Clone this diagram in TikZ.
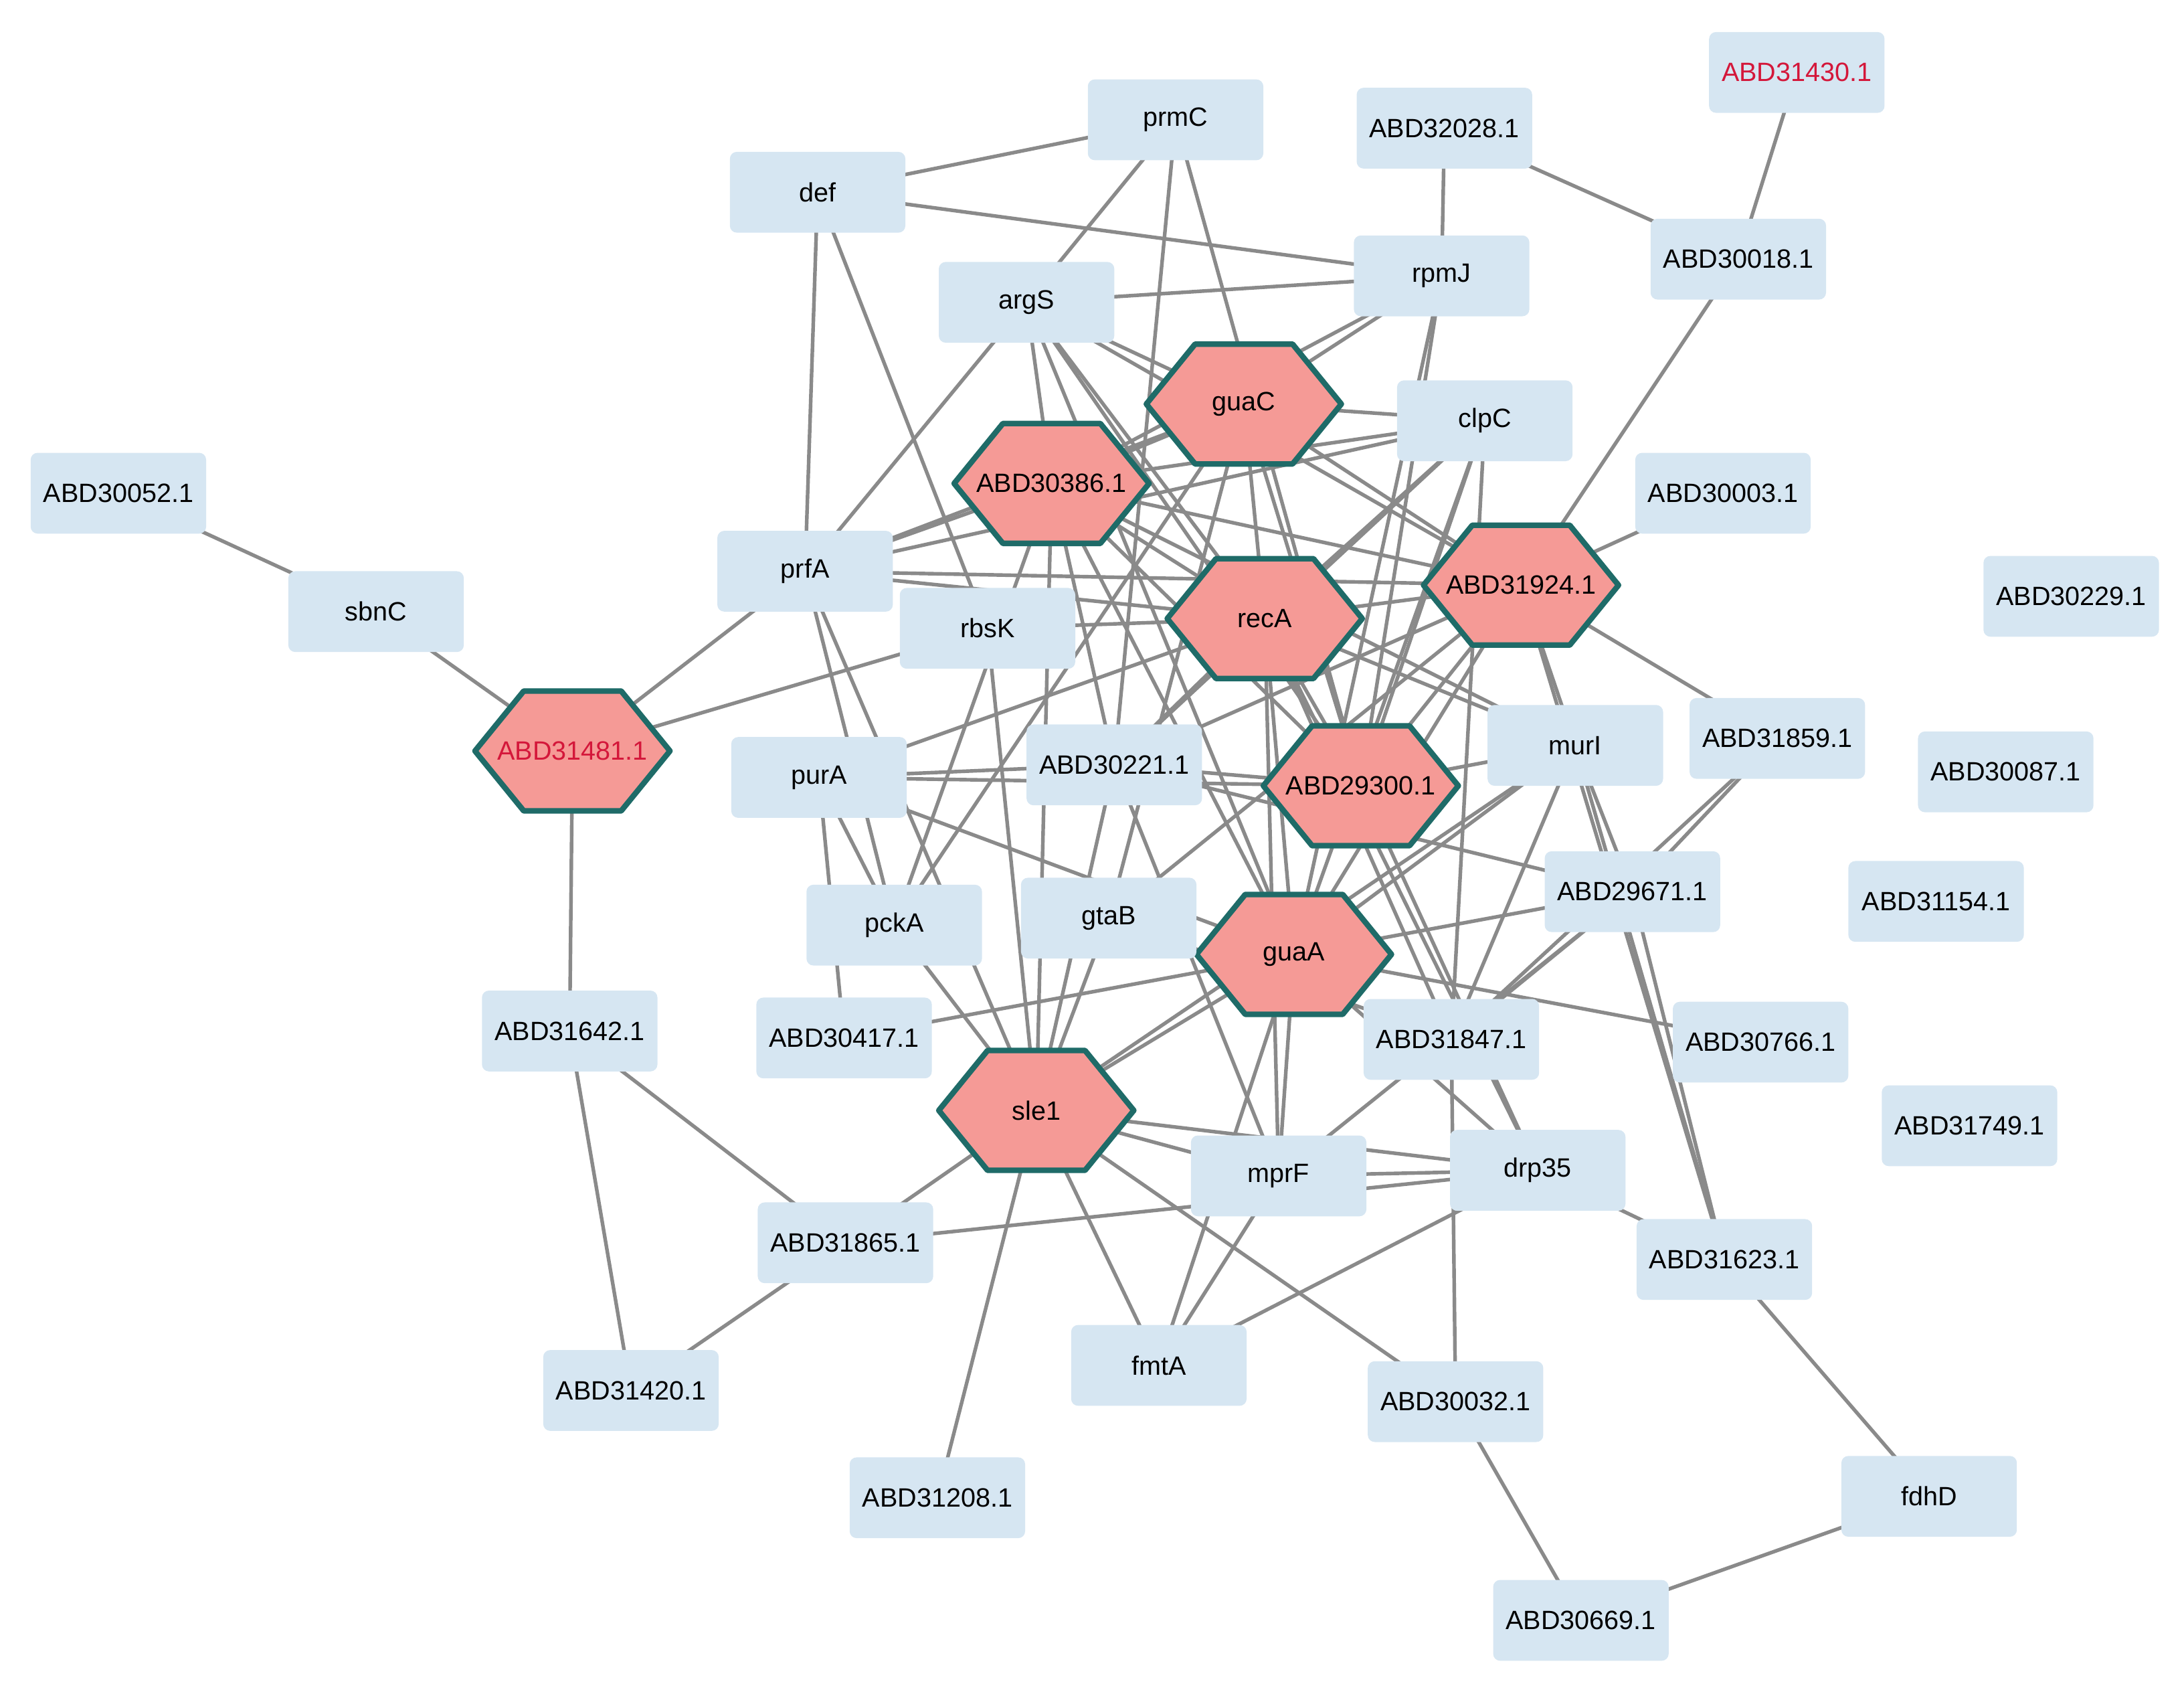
\documentclass[tikz,border=0pt]{standalone}
\usepackage{fontspec}
\setmainfont{Liberation Sans}
\pgfdeclarelayer{edgelayer}\pgfdeclarelayer{hexlayer}
\pgfsetlayers{edgelayer,hexlayer,main}
\definecolor{rbox}{HTML}{D6E6F2}
\definecolor{hexf}{HTML}{F59A96}
\definecolor{hexb}{HTML}{1F6B68}
\definecolor{edg}{HTML}{8A8A8A}
\definecolor{redt}{HTML}{D4173A}
\tikzset{
 box/.style={fill=rbox,rounded corners=5pt,minimum width=126pt,minimum height=58pt,inner sep=0pt,font=\fontsize{19}{22}\selectfont},
 hext/.style={inner sep=0pt,font=\fontsize{19}{22}\selectfont},
 hexs/.style={fill=hexf,draw=hexb,line width=4pt,line join=round},
 edge/.style={draw=edg,line width=2.6pt}
}
\newcommand\hx[4]{\node[hext] (#1) at (#2,#3) {#4};
 \begin{pgfonlayer}{hexlayer}\path[hexs] ({#2-70},#3) -- ({#2-35},{#3-43}) -- ({#2+35},{#3-43}) -- ({#2+70},#3) -- ({#2+35},{#3+43}) -- ({#2-35},{#3+43}) -- cycle;\end{pgfonlayer}}
\begin{document}
\begin{tikzpicture}[x=1pt,y=-1pt]
\useasboundingbox (0,0) rectangle (1568,1214);
\node[box,text=redt] (a31430) at (1290,52) {ABD31430.1};
\node[box] (prmC) at (844,86) {prmC};
\node[box] (a32028) at (1037,92) {ABD32028.1};
\node[box] (def) at (587,138) {def};
\node[box] (a30018) at (1248,186) {ABD30018.1};
\node[box] (rpmJ) at (1035,198) {rpmJ};
\node[box] (argS) at (737,217) {argS};
\node[box] (clpC) at (1066,302) {clpC};
\node[box] (a30052) at (85,354) {ABD30052.1};
\node[box] (a30003) at (1237,354) {ABD30003.1};
\node[box] (prfA) at (578,410) {prfA};
\node[box] (a30229) at (1487,428) {ABD30229.1};
\node[box] (sbnC) at (270,439) {sbnC};
\node[box] (rbsK) at (709,451) {rbsK};
\node[box] (murI) at (1131,535) {murI};
\node[box] (a31859) at (1276,530) {ABD31859.1};
\node[box] (a30221) at (800,549) {ABD30221.1};
\node[box] (purA) at (588,558) {purA};
\node[box] (a30087) at (1440,554) {ABD30087.1};
\node[box] (a29671) at (1172,640) {ABD29671.1};
\node[box] (a31154) at (1390,647) {ABD31154.1};
\node[box] (pckA) at (642,664) {pckA};
\node[box] (gtaB) at (796,659) {gtaB};
\node[box] (a31642) at (409,740) {ABD31642.1};
\node[box] (a30417) at (606,745) {ABD30417.1};
\node[box] (a31847) at (1042,746) {ABD31847.1};
\node[box] (a30766) at (1264,748) {ABD30766.1};
\node[box] (a31749) at (1414,808) {ABD31749.1};
\node[box] (mprF) at (918,844) {mprF};
\node[box] (drp35) at (1104,840) {drp35};
\node[box] (a31865) at (607,892) {ABD31865.1};
\node[box] (a31623) at (1238,904) {ABD31623.1};
\node[box] (fmtA) at (832,980) {fmtA};
\node[box] (a31420) at (453,998) {ABD31420.1};
\node[box] (a30032) at (1045,1006) {ABD30032.1};
\node[box] (fdhD) at (1385,1074) {fdhD};
\node[box] (a31208) at (673,1075) {ABD31208.1};
\node[box] (a30669) at (1135,1163) {ABD30669.1};
\hx{guaC}{893}{290}{guaC}
\hx{a30386}{755}{347}{ABD30386.1}
\hx{a31924}{1092}{420}{ABD31924.1}
\hx{recA}{908}{444}{recA}
\hx{a31481}{411}{539}{\textcolor{redt}{ABD31481.1}}
\hx{a29300}{977}{564}{ABD29300.1}
\hx{guaA}{929}{685}{guaA}
\hx{sle1}{744}{797}{sle1}
\begin{pgfonlayer}{edgelayer}
\foreach \a/\b in {a31430/a30018,a32028/a30018,a32028/rpmJ,a30018/a31924,def/prmC,def/rpmJ,def/prfA,def/rbsK,
 prmC/argS,prmC/a30221,prmC/a29300,argS/rpmJ,argS/guaC,argS/recA,argS/a30386,argS/a31924,argS/a29300,argS/guaA,argS/prfA,
 rpmJ/guaC,rpmJ/a30386,rpmJ/a29300,rpmJ/guaA,sbnC/a30052,sbnC/a31481,a31481/prfA,a31481/rbsK,a31481/a31642,
 a31642/a31420,a31642/a31865,a31865/a31420,a31865/sle1,a31865/drp35,sle1/a31208,sle1/fmtA,sle1/mprF,sle1/drp35,sle1/a30032,
 sle1/guaA,sle1/murI,sle1/pckA,sle1/rbsK,sle1/prfA,sle1/gtaB,sle1/a30221,fmtA/mprF,fmtA/drp35,fmtA/guaA,
 a30032/a30669,a30032/a31847,fdhD/a30669,fdhD/a31623,a31623/drp35,a31623/a29671,a31623/a31924,drp35/mprF,drp35/a29300,
 drp35/guaA,drp35/recA,mprF/a29671,mprF/guaA,mprF/a30221,mprF/recA,a31847/a29671,a31847/a31859,a31847/murI,a31847/gtaB,
 a31847/recA,a30766/guaA,a30417/guaA,a30417/purA,pckA/purA,pckA/prfA,pckA/guaC,purA/a30221,purA/a29300,purA/recA,purA/guaA,
 gtaB/guaC,gtaB/a31924,guaA/a29671,guaA/a31924,guaA/murI,guaA/clpC,guaA/a30386,guaA/recA,a29300/murI,a29300/clpC,
 a29300/a31924,a29300/a30386,a29300/guaC,a29300/recA,a29300/a30221,recA/prfA,recA/rbsK,recA/guaC,recA/a30386,recA/a31924,
 recA/clpC,recA/murI,recA/a30221,a31924/a30003,a31924/a31859,a31924/murI,a31924/a30386,a31924/guaC,a31924/prfA,
 guaC/a30386,guaC/prfA,guaC/clpC,a30386/prfA,a30386/clpC,a30386/murI,a30386/pckA,a30386/sle1,a30386/a30221,
 clpC/prfA,clpC/a30221,clpC/a31847,murI/a29671,murI/a31623,a31859/a29671,a30221/a29671,a30221/a31924}
 {\draw[edge] (\a.center) -- (\b.center);}
\end{pgfonlayer}
\end{tikzpicture}
\end{document}
